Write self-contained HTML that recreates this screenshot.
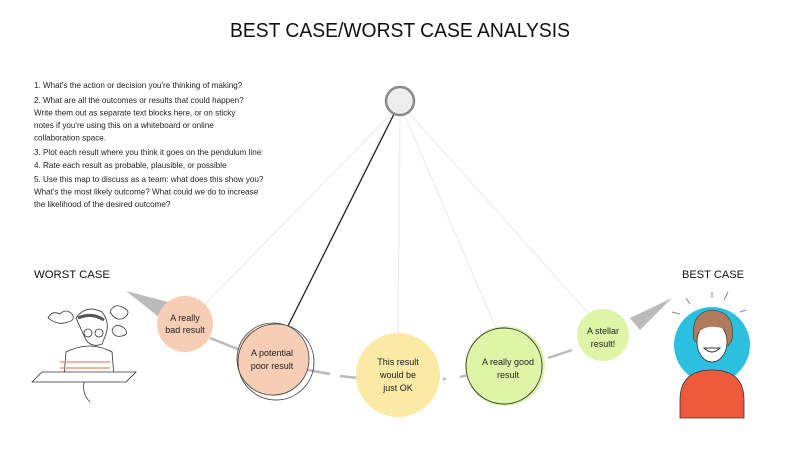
<!DOCTYPE html>
<html><head><meta charset="utf-8"><style>
html,body{margin:0;padding:0;background:#fff;}
svg{display:block;font-family:"Liberation Sans",sans-serif;}
</style></head><body>
<svg width="800" height="450" viewBox="0 0 800 450" xmlns="http://www.w3.org/2000/svg">
<text x="400" y="37" text-anchor="middle" font-size="20" fill="#111" textLength="340" lengthAdjust="spacingAndGlyphs">BEST CASE/WORST CASE ANALYSIS</text>
<g font-size="8.1" fill="#222">
<text x="34" y="88">1. What's the action or decision you're thinking of making?</text>
<text x="34" y="103">2. What are all the outcomes or results that could happen?</text>
<text x="34" y="115.5">Write them out as separate text blocks here, or on sticky</text>
<text x="34" y="128">notes if you're using this on a whiteboard or online</text>
<text x="34" y="140.5">collaboration space.</text>
<text x="34" y="155">3. Plot each result where you think it goes on the pendulum line</text>
<text x="34" y="168">4. Rate each result as probable, plausible, or possible</text>
<text x="34" y="182">5. Use this map to discuss as a team: what does this show you?</text>
<text x="34" y="194.5">What's the most likely outcome? What could we do to increase</text>
<text x="34" y="207">the likelihood of the desired outcome?</text>
</g>
<text x="34" y="278" font-size="11" fill="#111" textLength="76" lengthAdjust="spacingAndGlyphs">WORST CASE</text>
<text x="682" y="278" font-size="11" fill="#111" textLength="62" lengthAdjust="spacingAndGlyphs">BEST CASE</text>
<g stroke="#ececec" stroke-width="1.2" fill="none">
<line x1="393" y1="112" x2="205" y2="304"/>
<line x1="400" y1="115" x2="398" y2="333"/>
<line x1="404" y1="114" x2="495" y2="326"/>
<line x1="408" y1="112" x2="590" y2="315"/>
</g>
<line x1="394" y1="114" x2="288" y2="326" stroke="#222" stroke-width="1.3"/>
<g stroke="#bbb" stroke-width="2.5" fill="none">
<line x1="210" y1="338" x2="240" y2="350"/>
<line x1="308" y1="370" x2="330" y2="374"/>
<line x1="340" y1="376" x2="358" y2="378"/>
<line x1="443" y1="379" x2="446" y2="379"/>
<line x1="460" y1="377" x2="468" y2="375"/>
<line x1="548" y1="358" x2="572" y2="350"/>
</g>
<polygon points="126,291 168,302 160,318" fill="#bbb"/>
<polygon points="672,298 630,318 640,330" fill="#bbb"/>
<circle cx="400" cy="101" r="14" fill="#eee" stroke="#888" stroke-width="2.5"/>
<circle cx="185" cy="324" r="28" fill="#f6cdb5"/>
<circle cx="273" cy="360" r="36" fill="#f6cdb5"/>
<circle cx="276" cy="362" r="38" fill="none" stroke="#333" stroke-width="0.8"/>
<circle cx="273" cy="359" r="36" fill="none" stroke="#444" stroke-width="0.8"/>
<circle cx="398" cy="375" r="42" fill="#fbe9a6"/>
<circle cx="505" cy="366" r="40" fill="#def5a8"/>
<circle cx="504" cy="366" r="38" fill="none" stroke="#333" stroke-width="0.9"/>
<circle cx="603" cy="335" r="26" fill="#def5a8"/>
<g font-size="9" fill="#222" text-anchor="middle">
<text x="185" y="321">A really</text><text x="185" y="333">bad result</text>
<text x="272" y="356">A potential</text><text x="272" y="369">poor result</text>
<text x="398" y="365">This result</text><text x="398" y="378">would be</text><text x="398" y="391">just OK</text>
<text x="508" y="365">A really good</text><text x="508" y="378">result</text>
<text x="603" y="334">A stellar</text><text x="603" y="347">result!</text>
</g>
<g stroke="#333" stroke-width="0.8" fill="none">
<path d="M48,318 q4,-8 12,-4 q6,-6 12,0 q4,6 -4,8 q-10,4 -20,-4z" fill="#fff"/>
<path d="M110,312 q4,-10 14,-4 q8,4 0,10 q-8,4 -14,-6z" fill="#fff"/>
<path d="M112,330 q4,-8 12,-2 q6,6 -2,8 q-8,2 -10,-6z" fill="#fff"/>
<path d="M76,318 q10,-14 26,-6 q8,10 4,22 l-4,10 q-10,4 -16,-4 z" fill="#fff"/>
<path d="M78,318 q14,-6 26,2" stroke-width="3" stroke="#555"/>
<circle cx="88" cy="333" r="4"/><circle cx="99" cy="333" r="4"/>
<path d="M66,352 q24,-12 46,0 l2,24 l-50,0z" fill="#fff"/>
<path d="M60,362 h50 M60,368 h50 M60,374 h50" stroke="#f39a7c" stroke-width="1.6"/>
<path d="M32,382 l10,-10 l94,0 l-10,10z" fill="#fff"/>
<path d="M84,382 q-2,12 6,20"/>
</g>
<circle cx="712" cy="345" r="38" fill="#2cc0de"/>
<g stroke="#888" stroke-width="1">
<line x1="686" y1="298" x2="690" y2="304"/><line x1="712" y1="292" x2="712" y2="298"/><line x1="728" y1="292" x2="724" y2="300"/><line x1="672" y1="312" x2="680" y2="314"/><line x1="740" y1="312" x2="746" y2="310"/>
</g>
<path d="M680,400 q0,-30 32,-30 q32,0 32,30 l0,18 l-64,0z" fill="#f05a3c" stroke="#333" stroke-width="0.8"/>
<path d="M694,340 q-4,-28 18,-30 q24,2 20,30 l-4,6 l-28,0z" fill="#b07a5c" stroke="#333" stroke-width="0.6"/>
<ellipse cx="712" cy="342" rx="15" ry="20" fill="#fff" stroke="#333" stroke-width="0.8"/>
<path d="M697,334 q10,-12 30,-4 l0,-8 q-14,-10 -30,0z" fill="#b07a5c"/>
<path d="M704,348 q8,8 16,0z" stroke="#333" fill="#fff"/>
</svg>
</body></html>
